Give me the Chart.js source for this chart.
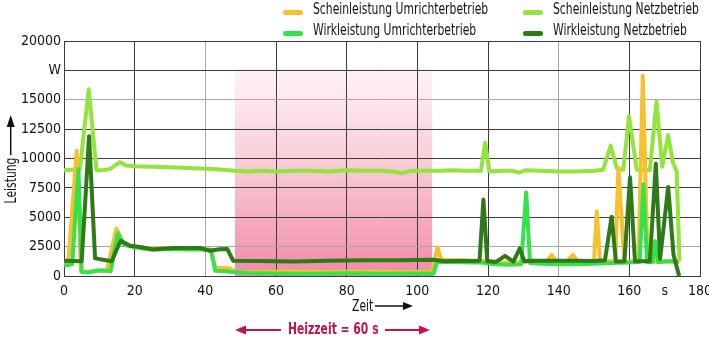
<!DOCTYPE html>
<html><head><meta charset="utf-8">
<script src="https://cdn.jsdelivr.net/npm/chart.js@4/dist/chart.umd.min.js"></script>
<style>
html,body{margin:0;padding:0;background:#fff;}
#wrap{position:relative;width:709px;height:341px;overflow:hidden;font-family:'Liberation Sans Narrow','DejaVu Sans Condensed',sans-serif;}
#c{position:absolute;left:0;top:0;}
.t{position:absolute;font-size:15px;line-height:15px;color:#111;white-space:nowrap;transform-origin:0 50%;transform:scaleX(0.8);}
.mk{position:absolute;width:20px;height:5px;border-radius:2.5px;}
svg{position:absolute;left:0;top:0;}
</style></head><body>
<div id="wrap">
<canvas id="c" width="709" height="341"></canvas>
<svg width="709" height="341">
  <line x1="10.7" y1="155" x2="10.7" y2="126" stroke="#111" stroke-width="1.5"/>
  <polygon points="6.7,127 10.7,115 14.7,127" fill="#111"/>
  <line x1="375" y1="306" x2="404" y2="306" stroke="#111" stroke-width="1.5"/>
  <polygon points="403,302 413,306 403,310" fill="#111"/>
  <line x1="244" y1="330" x2="281" y2="330" stroke="#c4164c" stroke-width="2"/>
  <polygon points="246,325.5 235,330 246,334.5" fill="#c4164c"/>
  <line x1="385" y1="330" x2="421" y2="330" stroke="#c4164c" stroke-width="2"/>
  <polygon points="419,325.5 430,330 419,334.5" fill="#c4164c"/>
</svg>
<div class="mk" style="left:283px;top:10px;background:#f6c12c"></div>
<div class="t" style="left:313px;top:2px">Scheinleistung Umrichterbetrieb</div>
<div class="mk" style="left:523px;top:10px;background:#93e43c"></div>
<div class="t" style="left:553px;top:2px">Scheinleistung Netzbetrieb</div>
<div class="mk" style="left:283px;top:31px;background:#35e24b"></div>
<div class="t" style="left:313px;top:23px">Wirkleistung Umrichterbetrieb</div>
<div class="mk" style="left:523px;top:31px;background:#2e7a18"></div>
<div class="t" style="left:553px;top:23px">Wirkleistung Netzbetrieb</div>
<div class="t" style="left:-19px;top:173px;width:60px;text-align:center;transform-origin:50% 50%;transform:rotate(-90deg) scaleX(0.8);">Leistung</div>
<div class="t" style="left:352px;top:299px">Zeit</div>
<div class="t" style="left:288px;top:322px;color:#c4164c;font-weight:bold">Heizzeit = 60 s</div>
</div>
<script>
// ---- data (time in s, power in W) ----
const scheinUmrT = [0,1.2,3.6,4.8,7,9,11,12.2,14.8,17,19,22,30,38,41.6,42.8,47,48.5,55,65,75,85,95,104.2,105.7,106.8,110,115,120,124,128,132,136.5,138,139.5,142.5,144,145.5,150,150.8,151.7,156,156.9,158.6,162.6,163.8,165.2,168,171,174.2];
const scheinUmrW = [1100,1100,10650,400,350,450,400,500,4050,2700,2550,2400,2350,2320,2250,700,650,350,350,380,350,380,350,380,2400,1400,1350,1300,1300,1150,1150,1250,1200,1800,1200,1250,1800,1200,1250,5500,1250,1250,9200,1200,1250,17050,1250,1200,1250,1300];

const scheinNetzT = [0,2,4.5,7.0,9.2,11,13,15.8,17.5,20,25,30,35,38.5,42,45,48.4,52,56,60,65,70,75,80,85,90,93,95.6,98,102,106,110,114,118,119.2,120.4,124,127,128.8,130.5,135,140,145,150,152.6,154.7,156.5,158.3,159.9,162.1,165.8,167.7,169.3,171.0,172.3,173.4,174.2];
const scheinNetzW = [9000,9050,9100,15900,9000,9000,9100,9700,9400,9350,9300,9250,9200,9150,9100,9050,8950,8900,8950,8900,8950,8950,8900,9000,8950,8950,8900,8750,8950,8950,8950,9000,8950,8950,11350,8900,8950,8950,8800,9000,8950,8900,8900,8950,9050,11100,9150,9050,13600,9050,9000,14850,9300,11980,9700,8900,1300];

const wirkUmrT = [0,2.3,4.1,5.0,7,9,10.5,12,13.2,15.2,17,19,22,26,30,34,38,41.6,42.8,45,48,52,60,70,80,90,100,104.6,105.6,110,115,118,122,126,129.4,130.8,131.9,135,140,145,150,155,160,162.9,164,165,166.6,167.3,168.1,171,174];
const wirkUmrW = [900,1000,9100,350,300,450,500,450,400,3650,2650,2500,2350,2250,2300,2250,2280,2200,450,420,350,250,220,200,230,200,220,200,1200,1200,1150,1150,1000,950,1000,7100,1100,1050,1000,1000,1050,1100,1150,1200,7800,1200,1200,2950,1200,1250,1200];

const wirkNetzT = [0,5,7.1,8.8,13.5,16,18.7,22,25,31,38.5,41.3,44,46.2,47.9,55,65,75,85,95,104.5,108,112,116,117.6,118.7,119.8,122.3,124.8,127.2,129,130.3,133,140,145,150,153.1,155,156.2,158.6,160.2,161.6,165.8,167.5,168.7,171,172.5,174.1];
const wirkNetzW = [1300,1250,11900,1500,1250,3000,2580,2450,2250,2380,2380,2150,2280,2300,1300,1280,1240,1300,1350,1330,1390,1250,1300,1280,1300,6500,1250,1200,1720,1220,2350,1250,1300,1300,1300,1280,1350,5050,1230,1250,8400,1250,1250,9550,1450,7580,1800,0];

const xTickValues = [0,20,40,60,80,100,120,140,160,170,180];
const xTickLabels = ['0','20','40','60','80','100','120','140','160','s','180'];
const yTickValues = [0,2500,5000,7500,10000,12500,15000,17500,20000];
const yTickLabels = ['0','2500','5000','7500','10000','12500','15000','W','20000'];

const heatStart = 48.4, heatEnd = 104.2, heatTop = 17600;

function pts(t, v){ return t.map((x,i)=>({x:x, y:v[i]})); }

const FONT = "'Liberation Sans Narrow','DejaVu Sans Condensed',sans-serif";
const DARK = '#3c3c3c', LIGHT = '#a8a8a8';

const heatBand = {
  id:'heatBand',
  beforeDraw(chart){
    const {ctx, scales:{x,y}} = chart;
    const x0 = x.getPixelForValue(heatStart), x1 = x.getPixelForValue(heatEnd);
    const y0 = y.getPixelForValue(heatTop), y1 = y.getPixelForValue(0);
    const g = ctx.createLinearGradient(0,y0,0,y1);
    g.addColorStop(0,'#fff3f6');
    g.addColorStop(0.45,'#f9cdd8');
    g.addColorStop(1,'#f18ba7');
    ctx.save(); ctx.fillStyle = g; ctx.fillRect(x0,y0,x1-x0,y1-y0); ctx.restore();
  }
};

const ds = (label, t, v, color, order) => ({
  label, data: pts(t,v), borderColor: color, backgroundColor: color,
  borderWidth: 4, borderJoinStyle:'round', pointRadius: 0, tension: 0, fill: false, order
});

new Chart(document.getElementById('c'), {
  type:'line',
  data:{ datasets:[
    ds('Scheinleistung Umrichterbetrieb', scheinUmrT, scheinUmrW, '#f6c12c', 2),
    ds('Scheinleistung Netzbetrieb', scheinNetzT, scheinNetzW, '#93e43c', 3),
    ds('Wirkleistung Umrichterbetrieb', wirkUmrT, wirkUmrW, '#35e24b', 1),
    ds('Wirkleistung Netzbetrieb', wirkNetzT, wirkNetzW, '#2e7a18', 0)
  ]},
  options:{
    responsive:false, animation:false, devicePixelRatio:1,
    layout:{ padding:{left:0,right:9,top:41,bottom:0} },
    plugins:{ legend:{display:false}, tooltip:{enabled:false} },
    scales:{
      x:{ type:'linear', min:0, max:180,
        afterBuildTicks(s){ s.ticks = xTickValues.map(v=>({value:v})); },
        afterFit(s){ s.height = 65; s.paddingLeft = 0; s.paddingRight = 0; },
        ticks:{ autoSkip:false, maxRotation:0, padding:7, color:'#111', font:{family:FONT,size:14},
          callback:(v,i)=>xTickLabels[i] },
        grid:{ drawTicks:false, lineWidth:1,
          color:c=>{ const v=c.tick&&c.tick.value; if(v===170) return 'rgba(0,0,0,0)'; return (v===40||v===140)?LIGHT:DARK; } },
        border:{ color:DARK, width:1 }
      },
      y:{ type:'linear', min:0, max:20000,
        afterBuildTicks(s){ s.ticks = yTickValues.map(v=>({value:v})); },
        afterFit(s){ s.width = 64; s.paddingTop = 0; s.paddingBottom = 0; },
        ticks:{ padding:3, color:'#111', font:{family:FONT,size:14}, callback:(v,i)=>yTickLabels[i] },
        grid:{ drawTicks:false, lineWidth:1,
          color:c=>{ const v=c.tick&&c.tick.value; return (v===15000||v===2500)?LIGHT:DARK; } },
        border:{ color:DARK, width:1 }
      }
    }
  },
  plugins:[heatBand]
});
</script>
</body></html>
